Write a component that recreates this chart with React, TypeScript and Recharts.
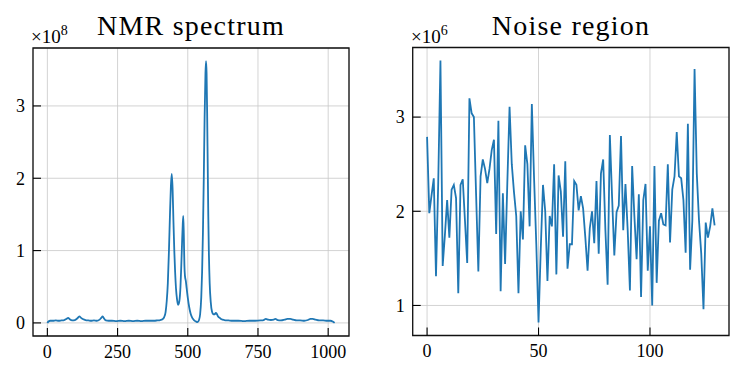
import React from 'react';
import { LineChart, Line, XAxis, YAxis, CartesianGrid, ReferenceArea } from 'recharts';

// ---- NMR spectrum (values in units of 1e8) ----
const specX = [
  0, 4, 10, 20, 30, 40, 50, 60, 68, 74, 80, 88, 98, 106, 114, 120, 128, 136, 146, 156, 166, 176, 186, 192, 197, 202, 208, 218,
  230, 245, 260, 275, 290, 305, 320, 335, 350, 365, 380, 392, 402, 410, 416, 421, 425, 429, 433, 437, 440, 443, 446, 449,
  452, 455, 458, 462, 466, 470, 474, 477, 480, 482, 484, 486, 488, 490, 493, 496, 500, 505, 510, 516, 522, 529, 535, 540,
  544, 548, 551, 554, 557, 560, 563, 565, 567, 569, 571, 573, 575, 578, 582, 586, 591, 596, 600, 604, 608, 614, 620, 630,
  645, 660, 680, 700, 720, 740, 760, 770, 778, 786, 796, 806, 812, 820, 832, 845, 855, 865, 875, 888, 900, 915, 928, 937,
  945, 955, 968, 982, 996, 1008, 1016, 1023,
];
const specY = [
  0.0, 0.02, 0.03, 0.03, 0.035, 0.03, 0.035, 0.04, 0.055, 0.07, 0.05, 0.035, 0.04, 0.06, 0.09, 0.07, 0.05, 0.04, 0.035, 0.03, 0.035, 0.03, 0.045, 0.07, 0.09, 0.06, 0.035, 0.03,
  0.03, 0.025, 0.03, 0.025, 0.03, 0.025, 0.03, 0.025, 0.03, 0.03, 0.03, 0.035, 0.04, 0.05, 0.08, 0.15, 0.3, 0.55, 1.0, 1.55, 1.9, 2.06, 1.85, 1.4,
  1.0, 0.7, 0.48, 0.32, 0.25, 0.3, 0.5, 0.8, 1.15, 1.35, 1.48, 1.2, 0.8, 0.65, 0.58, 0.48, 0.35, 0.22, 0.13, 0.07, 0.04, 0.02, 0.01, 0.04,
  0.12, 0.35, 0.7, 1.25, 2.0, 2.85, 3.45, 3.62, 3.45, 2.9, 2.2, 1.5, 1.0, 0.55, 0.28, 0.16, 0.12, 0.12, 0.14, 0.12, 0.09, 0.07, 0.05, 0.04,
  0.035, 0.03, 0.03, 0.025, 0.03, 0.03, 0.035, 0.04, 0.055, 0.045, 0.04, 0.045, 0.055, 0.04, 0.035, 0.045, 0.055, 0.055, 0.045, 0.035, 0.035, 0.03, 0.04, 0.055,
  0.055, 0.045, 0.035, 0.035, 0.03, 0.03, 0.02, 0.0,
];
const specTicksX = [0, 250, 500, 750, 1000];
const specTicksY = [0, 1, 2, 3];

// ---- Noise region (values in units of 1e6), index 0..129 ----
const noiseY = [
  2.79, 1.98, 2.17, 2.35, 1.31, 2.3, 3.6, 1.42, 1.75, 2.12, 1.72, 2.23, 2.28, 2.14, 1.13, 2.28, 2.34, 1.9, 1.45, 3.2,
  3.04, 3.0, 2.17, 1.36, 2.37, 2.55, 2.45, 2.3, 2.45, 2.65, 2.76, 1.76, 2.96, 1.15, 2.19, 1.44, 2.3, 3.11, 2.5, 2.2,
  1.95, 1.13, 2.0, 1.7, 2.7, 2.5, 1.84, 3.14, 2.35, 1.65, 0.82, 1.6, 2.28, 2.0, 1.26, 1.95, 1.84, 2.5, 1.33, 2.38,
  2.21, 1.73, 2.53, 1.39, 1.65, 1.65, 2.32, 2.28, 2.01, 2.16, 2.03, 1.72, 1.37, 1.82, 2.0, 1.66, 2.32, 1.55, 2.4, 2.55,
  1.8, 1.22, 2.81, 2.15, 1.53, 1.99, 2.06, 2.8, 1.8, 2.29, 1.8, 1.16, 2.48, 1.95, 1.49, 2.18, 1.09, 2.12, 2.29, 1.37,
  1.84, 1.0, 2.48, 1.24, 1.9, 1.98, 1.86, 1.85, 2.5, 1.67, 2.23, 2.37, 2.84, 2.37, 2.35, 2.12, 1.56, 2.93, 1.38, 1.9,
  3.51, 2.4, 1.9, 1.55, 0.96, 1.88, 1.72, 1.84, 2.03, 1.85,
];
const noiseTicksX = [0, 50, 100];
const noiseTicksY = [1, 2, 3];

const specData = specX.map((x, i) => ({ x, y: specY[i] }));
const noiseData = noiseY.map((y, i) => ({ x: i, y }));

const pad = (lo: number, hi: number): [number, number] => {
  const r = hi - lo;
  return [lo - r * 0.05, hi + r * 0.05];
};

const specDX = pad(Math.min(...specX), Math.max(...specX));
const specDY = pad(Math.min(...specY), Math.max(...specY));
const noiseDX = pad(0, noiseY.length - 1);
const noiseDY = pad(Math.min(...noiseY), Math.max(...noiseY));

const FONT = '"Liberation Serif", "Times New Roman", serif';
const BLUE = '#1f77b4';
const GRID = '#c8c8c8';

interface PanelProps {
  data: { x: number; y: number }[];
  dx: [number, number];
  dy: [number, number];
  ticksX: number[];
  ticksY: number[];
  width: number;
  margin: { top: number; right: number; bottom: number; left: number };
  curve: 'monotone' | 'linear';
}

function Panel({ data, dx, dy, ticksX, ticksY, width, margin, curve }: PanelProps) {
  const tickStyle = { fontSize: 18, fill: '#000', fontFamily: FONT };
  return (
    <LineChart width={width} height={377} data={data} margin={margin}>
      <CartesianGrid stroke={GRID} strokeWidth={0.8} />
      <XAxis
        dataKey="x"
        type="number"
        domain={dx}
        ticks={ticksX}
        allowDataOverflow
        height={30}
        axisLine={false}
        tickSize={-8}
        tickMargin={17}
        tickLine={{ stroke: '#000', strokeWidth: 1.1 }}
        tick={tickStyle}
        interval={0}
      />
      <YAxis
        dataKey="y"
        type="number"
        domain={dy}
        ticks={ticksY}
        allowDataOverflow
        width={25}
        axisLine={false}
        tickSize={-8}
        tickMargin={16}
        tickLine={{ stroke: '#000', strokeWidth: 1.1 }}
        tick={tickStyle}
        interval={0}
      />
      <Line
        type={curve}
        dataKey="y"
        stroke={BLUE}
        strokeWidth={1.8}
        dot={false}
        isAnimationActive={false}
      />
      <ReferenceArea
        x1={dx[0]}
        x2={dx[1]}
        y1={dy[0]}
        y2={dy[1]}
        fill="none"
        fillOpacity={0}
        stroke="#111"
        strokeWidth={1.3}
        ifOverflow="visible"
      />
    </LineChart>
  );
}

export default function App() {
  return (
    <div style={{ position: 'absolute', left: 0, top: 0, width: 745, height: 377, background: '#fff' }}>
      <div style={{ position: 'absolute', left: 0, top: 0 }}>
        <Panel
          data={specData}
          dx={specDX}
          dy={specDY}
          ticksX={specTicksX}
          ticksY={specTicksY}
          width={372}
          margin={{ top: 48, right: 23, bottom: 11, left: 8 }}
          curve="monotone"
        />
      </div>
      <div style={{ position: 'absolute', left: 372, top: 0 }}>
        <Panel
          data={noiseData}
          dx={noiseDX}
          dy={noiseDY}
          ticksX={noiseTicksX}
          ticksY={noiseTicksY}
          width={373}
          margin={{ top: 47.5, right: 16, bottom: 11.5, left: 15.7 }}
          curve="linear"
        />
      </div>
      <svg
        width={745}
        height={377}
        style={{ position: 'absolute', left: 0, top: 0, pointerEvents: 'none' }}
      >
        <text x={191} y={35} textAnchor="middle" fontFamily={FONT} fontSize={28} letterSpacing={1.2} fill="#000">
          NMR spectrum
        </text>
        <text x={571} y={35} textAnchor="middle" fontFamily={FONT} fontSize={28} letterSpacing={1.2} fill="#000">
          Noise region
        </text>
        <text x={31} y={43} fontFamily={FONT} fontSize={19} fill="#000">
          ×10<tspan dy={-8} fontSize={14}>8</tspan>
        </text>
        <text x={411} y={43} fontFamily={FONT} fontSize={19} fill="#000">
          ×10<tspan dy={-8} fontSize={14}>6</tspan>
        </text>
      </svg>
    </div>
  );
}
